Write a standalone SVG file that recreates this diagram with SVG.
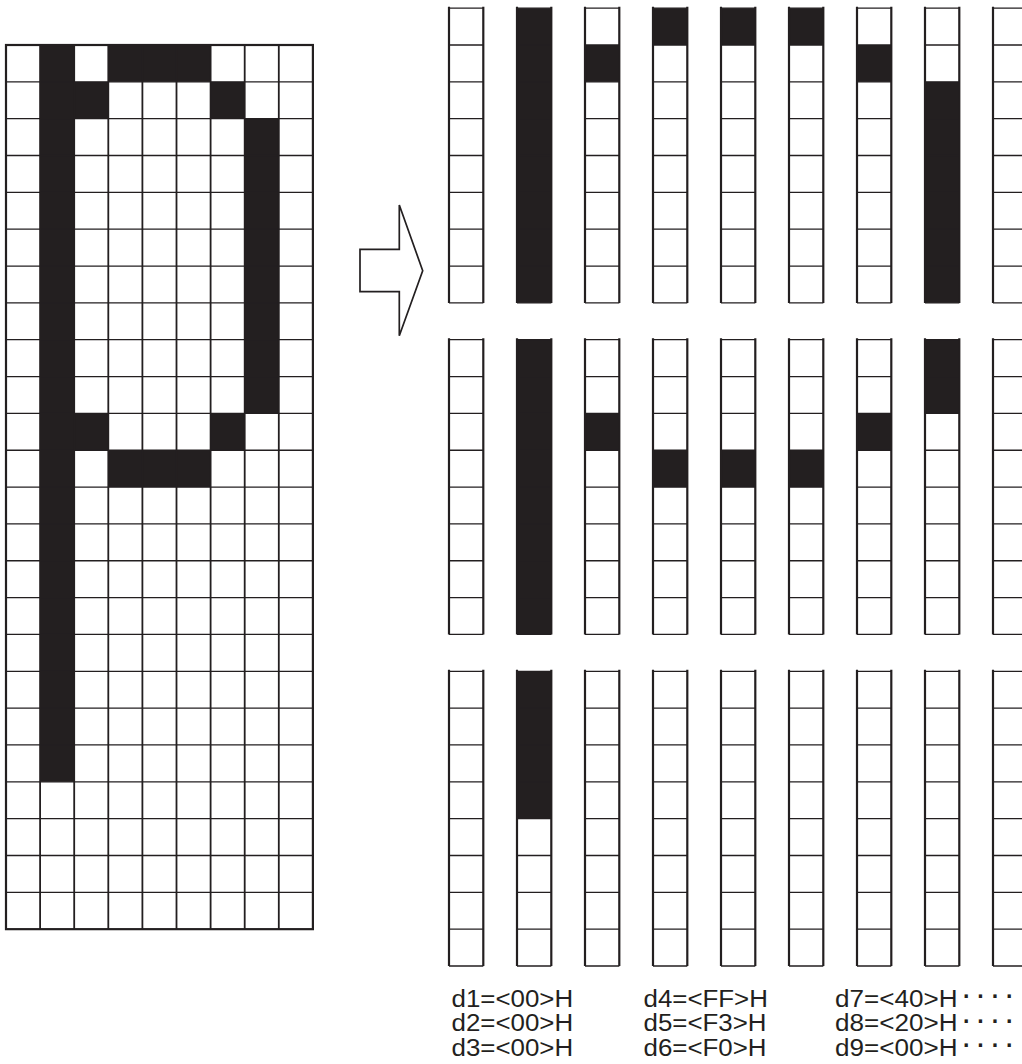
<svg xmlns="http://www.w3.org/2000/svg" width="1022" height="1064" viewBox="0 0 1022 1064">
<style>
.blk{fill:#231f20}
.hl{fill:none;stroke:#231f20;stroke-width:1.3}
.vl{fill:none;stroke:#231f20;stroke-width:1.8}
.ol{fill:none;stroke:#231f20;stroke-width:2.2}
.lbl{font-family:"Liberation Sans",Arial,sans-serif;font-size:23.5px;fill:#231f20}
.dots{font-family:"Liberation Sans",Arial,sans-serif;font-size:23px;font-weight:bold;fill:#231f20;letter-spacing:6.7px}
</style>
<defs>
<g id="strip">
<path class="hl" d="M0,0H34.3M0,36.84H34.3M0,73.68H34.3M0,110.52H34.3M0,147.36H34.3M0,184.2H34.3M0,221.04H34.3M0,257.88H34.3M0,294.72H34.3"/>
<path class="vl" d="M0,-1.5V294.72M34.3,-1.5V294.72" style="stroke-width:2.2"/>
</g>
</defs>
<rect width="1022" height="1064" fill="#fff"/>

<g id="source-grid">
<rect x="40.1" y="45" width="34.1" height="736.8" class="blk"/>
<rect x="108.3" y="45" width="102.3" height="36.84" class="blk"/>
<rect x="74.2" y="81.84" width="34.1" height="36.84" class="blk"/>
<rect x="210.6" y="81.84" width="34.1" height="36.84" class="blk"/>
<rect x="244.7" y="118.68" width="34.1" height="294.72" class="blk"/>
<rect x="74.2" y="413.4" width="34.1" height="36.84" class="blk"/>
<rect x="210.6" y="413.4" width="34.1" height="36.84" class="blk"/>
<rect x="108.3" y="450.24" width="102.3" height="36.84" class="blk"/>
<path class="hl" d="M6,81.84H312.9M6,118.68H312.9M6,155.52H312.9M6,192.36H312.9M6,229.2H312.9M6,266.04H312.9M6,302.88H312.9M6,339.72H312.9M6,376.56H312.9M6,413.4H312.9M6,450.24H312.9M6,487.08H312.9M6,523.92H312.9M6,560.76H312.9M6,597.6H312.9M6,634.44H312.9M6,671.28H312.9M6,708.12H312.9M6,744.96H312.9M6,781.8H312.9M6,818.64H312.9M6,855.48H312.9M6,892.32H312.9"/>
<path class="vl" d="M40.1,45V929.16M74.2,45V929.16M108.3,45V929.16M142.4,45V929.16M176.5,45V929.16M210.6,45V929.16M244.7,45V929.16M278.8,45V929.16"/>
<rect x="6" y="45" width="306.9" height="884.16" class="ol"/>
</g>

<g id="arrow">
<polygon points="360,249.3 399.3,249.3 399.3,205 422.7,270.7 399.3,335.7 399.3,291.7 360,291.7" fill="#fff" stroke="#231f20" stroke-width="1.7" stroke-linejoin="miter"/>
</g>

<g id="strip-fills">
<rect x="517" y="8.16" width="34.3" height="294.72" class="blk"/>
<rect x="585" y="45" width="34.3" height="36.84" class="blk"/>
<rect x="653" y="8.16" width="34.3" height="36.84" class="blk"/>
<rect x="721" y="8.16" width="34.3" height="36.84" class="blk"/>
<rect x="789" y="8.16" width="34.3" height="36.84" class="blk"/>
<rect x="857" y="45" width="34.3" height="36.84" class="blk"/>
<rect x="925" y="81.84" width="34.3" height="221.04" class="blk"/>
<rect x="517" y="339.72" width="34.3" height="294.72" class="blk"/>
<rect x="585" y="413.4" width="34.3" height="36.84" class="blk"/>
<rect x="653" y="450.24" width="34.3" height="36.84" class="blk"/>
<rect x="721" y="450.24" width="34.3" height="36.84" class="blk"/>
<rect x="789" y="450.24" width="34.3" height="36.84" class="blk"/>
<rect x="857" y="413.4" width="34.3" height="36.84" class="blk"/>
<rect x="925" y="339.72" width="34.3" height="73.68" class="blk"/>
<rect x="517" y="671.28" width="34.3" height="147.36" class="blk"/>
</g>

<g id="strips-row1">
<use href="#strip" x="449" y="8.16"/><use href="#strip" x="517" y="8.16"/><use href="#strip" x="585" y="8.16"/><use href="#strip" x="653" y="8.16"/><use href="#strip" x="721" y="8.16"/><use href="#strip" x="789" y="8.16"/><use href="#strip" x="857" y="8.16"/><use href="#strip" x="925" y="8.16"/><use href="#strip" x="993" y="8.16"/>
</g>
<g id="strips-row2">
<use href="#strip" x="449" y="339.72"/><use href="#strip" x="517" y="339.72"/><use href="#strip" x="585" y="339.72"/><use href="#strip" x="653" y="339.72"/><use href="#strip" x="721" y="339.72"/><use href="#strip" x="789" y="339.72"/><use href="#strip" x="857" y="339.72"/><use href="#strip" x="925" y="339.72"/><use href="#strip" x="993" y="339.72"/>
</g>
<g id="strips-row3">
<use href="#strip" x="449" y="671.28"/><use href="#strip" x="517" y="671.28"/><use href="#strip" x="585" y="671.28"/><use href="#strip" x="653" y="671.28"/><use href="#strip" x="721" y="671.28"/><use href="#strip" x="789" y="671.28"/><use href="#strip" x="857" y="671.28"/><use href="#strip" x="925" y="671.28"/><use href="#strip" x="993" y="671.28"/>
</g>

<g id="labels">
<text class="lbl" x="451.5" y="1006.5" textLength="121.6" lengthAdjust="spacingAndGlyphs">d1=&lt;00&gt;H</text>
<text class="lbl" x="451.5" y="1031" textLength="121.6" lengthAdjust="spacingAndGlyphs">d2=&lt;00&gt;H</text>
<text class="lbl" x="451.5" y="1055.5" textLength="121.6" lengthAdjust="spacingAndGlyphs">d3=&lt;00&gt;H</text>
<text class="lbl" x="643.5" y="1006.5" textLength="124.4" lengthAdjust="spacingAndGlyphs">d4=&lt;FF&gt;H</text>
<text class="lbl" x="643.5" y="1031" textLength="123" lengthAdjust="spacingAndGlyphs">d5=&lt;F3&gt;H</text>
<text class="lbl" x="643.5" y="1055.5" textLength="123" lengthAdjust="spacingAndGlyphs">d6=&lt;F0&gt;H</text>
<text class="lbl" x="835" y="1006.5" textLength="122.5" lengthAdjust="spacingAndGlyphs">d7=&lt;40&gt;H</text>
<text class="lbl" x="835" y="1031" textLength="122.5" lengthAdjust="spacingAndGlyphs">d8=&lt;20&gt;H</text>
<text class="lbl" x="835" y="1055.5" textLength="122.5" lengthAdjust="spacingAndGlyphs">d9=&lt;00&gt;H</text>
<text class="dots" x="963" y="1004">····</text>
<text class="dots" x="963" y="1028.5">····</text>
<text class="dots" x="963" y="1053">····</text>
</g>
</svg>
